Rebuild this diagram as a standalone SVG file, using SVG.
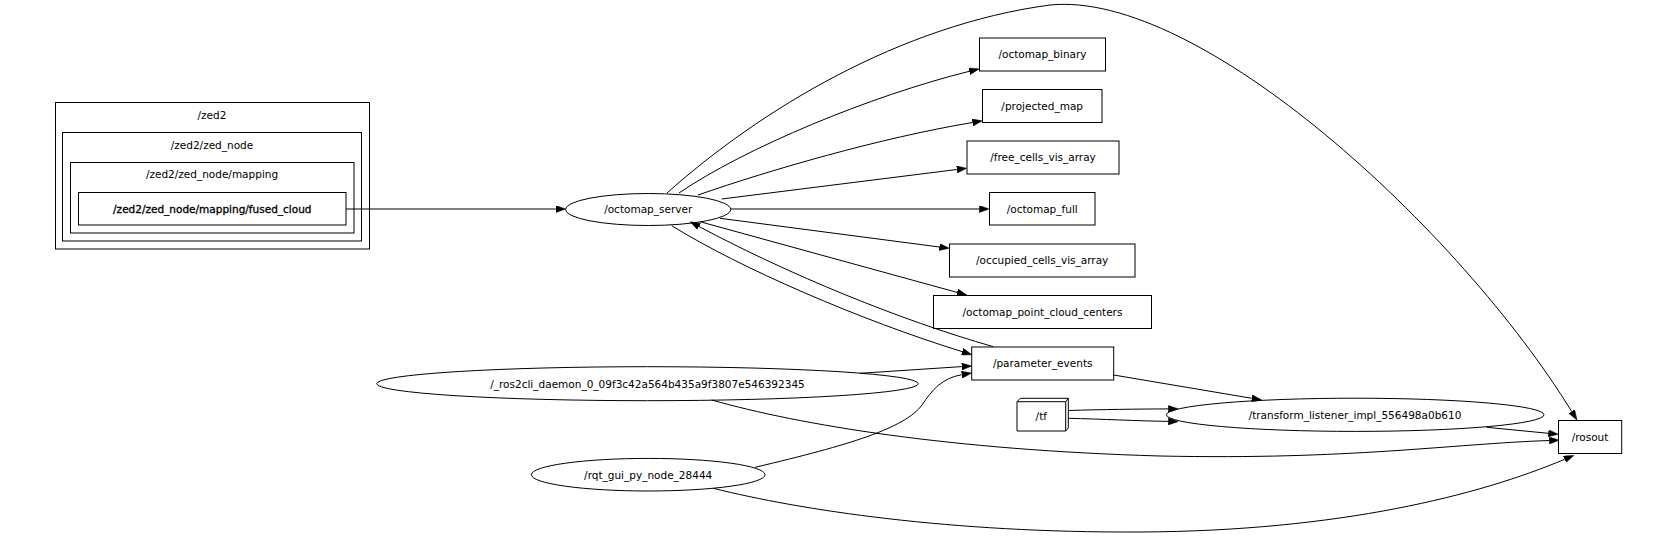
<svg xmlns="http://www.w3.org/2000/svg" width="1662" height="546" viewBox="0 0 1662 546">
<style>
text{font-family:"DejaVu Sans","Liberation Sans",sans-serif;font-size:10.5px;fill:#000;text-anchor:middle}
.n{fill:#fff;stroke:#000;stroke-width:1}
.c{fill:none;stroke:#000;stroke-width:1}
.e{fill:none;stroke:#000;stroke-width:1;marker-end:url(#ah)}
.l{fill:none;stroke:#000;stroke-width:1}
</style>
<defs>
<marker id="ah" markerUnits="userSpaceOnUse" viewBox="0 0 10 7" markerWidth="10" markerHeight="7" refX="0" refY="3.5" orient="auto"><path d="M0,0 L10,3.5 L0,7 z" fill="#000" stroke="#000" stroke-width="0.5"/></marker>
</defs>
<rect width="1662" height="546" fill="#fff"/>
<g id="cluster_zed2">
<rect class="c" x="55.5" y="102.5" width="314" height="146.5" stroke="#555"/>
<text x="212" y="119">/zed2</text>
</g>
<g id="cluster_zed_node">
<rect class="c" x="62.5" y="132.5" width="299" height="108.5"/>
<text x="212" y="149">/zed2/zed_node</text>
</g>
<g id="cluster_mapping">
<rect class="c" x="70.5" y="162.5" width="283.5" height="70.5" stroke="#555"/>
<text x="212" y="178">/zed2/zed_node/mapping</text>
</g>
<g id="fused_cloud">
<rect class="n" x="78.5" y="192.5" width="267.5" height="32.5" stroke-width="1.4"/>
<text x="212.3" y="212.5" stroke="#000" stroke-width="0.3">/zed2/zed_node/mapping/fused_cloud</text>
</g>
<g id="octomap_server">
<ellipse class="n" cx="648.2" cy="209.5" rx="82.5" ry="16"/>
<text x="648.2" y="213.3">/octomap_server</text>
</g>
<g id="octomap_binary">
<rect class="n" x="979.5" y="38" width="126" height="33"/>
<text x="1042.5" y="58.3">/octomap_binary</text>
</g>
<g id="projected_map">
<rect class="n" x="982.5" y="89.5" width="119.5" height="33"/>
<text x="1042.2" y="109.8">/projected_map</text>
</g>
<g id="free_cells_vis_array">
<rect class="n" x="967" y="141" width="152" height="33"/>
<text x="1043" y="161.3">/free_cells_vis_array</text>
</g>
<g id="octomap_full">
<rect class="n" x="989.5" y="192.5" width="105.5" height="32.5"/>
<text x="1042.2" y="212.8">/octomap_full</text>
</g>
<g id="occupied_cells_vis_array">
<rect class="n" x="949.5" y="244" width="185.5" height="33"/>
<text x="1042.2" y="264.3">/occupied_cells_vis_array</text>
</g>
<g id="octomap_point_cloud_centers">
<rect class="n" x="933.5" y="295.5" width="218" height="33"/>
<text x="1042.5" y="315.8">/octomap_point_cloud_centers</text>
</g>
<g id="parameter_events">
<rect class="n" x="971.7" y="347" width="142" height="33"/>
<text x="1042.7" y="367.3">/parameter_events</text>
</g>
<g id="tf">
<path class="n" d="M1017,401.7 L1020.3,398.3 L1068.3,398.3 L1068.3,428 L1065.7,431 L1017,431 Z"/>
<path class="l" d="M1017,401.7 L1065.7,401.7 L1068.3,398.3 M1065.7,401.7 L1065.7,431"/>
<text x="1041.3" y="420">/tf</text>
</g>
<g id="transform_listener">
<ellipse class="n" cx="1355.2" cy="414.8" rx="188.8" ry="16.6"/>
<text x="1355" y="418.6">/transform_listener_impl_556498a0b610</text>
</g>
<g id="rosout">
<rect class="n" x="1558.5" y="420.5" width="63.2" height="33"/>
<text x="1590" y="440.8">/rosout</text>
</g>
<g id="ros2cli_daemon">
<ellipse class="n" cx="647.5" cy="383.7" rx="270.8" ry="17"/>
<text x="647.5" y="387.5">/_ros2cli_daemon_0_09f3c42a564b435a9f3807e546392345</text>
</g>
<g id="rqt_gui">
<ellipse class="n" cx="648.2" cy="474.7" rx="116.8" ry="16.3"/>
<text x="648.2" y="478.5">/rqt_gui_py_node_28444</text>
</g>
<g id="connectors">
<path class="e" d="M346,209 L555.7,209"/>
<path class="e" d="M679,193 C745,148 870,96 969.3,71.3"/>
<path class="e" d="M698,195 C770,170 880,138 972.5,122.5"/>
<path class="e" d="M721.7,199 L956.8,169.5"/>
<path class="e" d="M730.7,209 L979.3,209"/>
<path class="e" d="M720,218.3 L939.4,247"/>
<path class="e" d="M700,221.7 L957.1,292.4"/>
<path class="e" d="M671.7,225.7 C740,268 860,320 962.3,351.7"/>
<path class="e" d="M993.3,346.7 C900,320 790,275 699,226.5"/>
<path class="e" d="M667,193 C760,110 900,25 1050,5 C1200,-10 1460,230 1571.7,411.5"/>
<path class="e" d="M860,373.3 L961.7,366.6"/>
<path class="e" d="M755,467.3 C850,445 905,428 922,405 C932,390 942,378 961.8,374.7"/>
<path class="e" d="M711.7,400 C800,425 950,450 1160,456 C1350,460 1450,444 1549.3,440.5"/>
<path class="e" d="M713.3,488.3 C800,510 950,533 1140,532 C1340,531 1480,495 1564.6,459.3"/>
<path class="e" d="M1113.7,375 L1251.8,398.3"/>
<path class="e" d="M1068.3,410.5 C1100,409.5 1140,409 1168.3,408.9"/>
<path class="e" d="M1068.3,418.3 C1100,419 1140,421 1168.3,421.4"/>
<path class="e" d="M1486.7,427.3 L1548.3,433.3"/>
</g>
</svg>
